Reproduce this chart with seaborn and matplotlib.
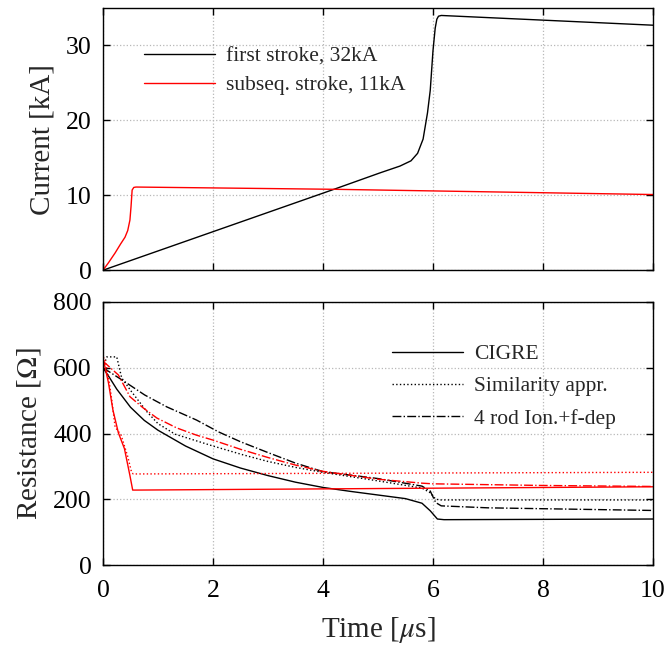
import numpy as np
import pandas as pd
import matplotlib
matplotlib.use("Agg")
import matplotlib.pyplot as plt
import seaborn as sns

sns.set_theme(style="ticks")
plt.rcParams['font.family'] = ['Liberation Serif', 'DejaVu Serif']
plt.rcParams['mathtext.fontset'] = 'stix'

# ---- Current (top panel) ----
t_first = [0, 4.2, 5.04, 5.4, 5.6, 5.72, 5.82, 5.9, 5.95, 6.0, 6.04, 6.07, 6.1, 6.15, 10]
i_first = [0, 10.8, 13.0, 13.9, 14.6, 15.6, 17.5, 21.0, 24.0, 29.3, 32.3, 33.5, 33.9, 34.0, 32.7]
t_sub = [0, 0.1, 0.22, 0.32, 0.4, 0.45, 0.49, 0.51, 0.53, 0.56, 0.6, 4.2, 10]
i_sub = [0, 1.0, 2.3, 3.5, 4.4, 5.3, 6.7, 8.5, 10.7, 11.05, 11.1, 10.8, 10.1]

# ---- Resistance (bottom panel) ----
t_cigre_1 = [0, 0.1, 0.25, 0.5, 0.75, 1.0, 1.5, 2, 2.5, 3, 3.5, 4, 4.5, 5, 5.5, 5.8, 5.95, 6.08, 6.2, 10]
r_cigre_1 = [600, 575, 535, 480, 440, 410, 362, 323, 295, 272, 252, 236, 224, 213, 202, 188, 165, 140, 138, 140]
t_sim_1 = [0, 0.07, 0.25, 0.34, 0.52, 0.8, 1.0, 1.31, 2, 2.55, 3, 3.5, 4, 5, 5.8, 5.95, 6.05, 6.15, 10]
r_sim_1 = [600, 633, 633, 569, 527, 466, 430, 398, 362, 335, 315, 297, 282, 256, 234, 220, 200, 198, 198]
t_rod_1 = [0, 0.4, 0.76, 1.16, 1.7, 2.1, 2.5, 3, 3.5, 4, 5, 5.8, 5.95, 6.05, 6.15, 7, 10]
r_rod_1 = [600, 557, 517, 481, 441, 405, 375, 342, 310, 284, 263, 240, 225, 190, 180, 174, 166]

t_cigre_2 = [0, 0.1, 0.18, 0.28, 0.39, 0.49, 0.54, 0.6, 10]
r_cigre_2 = [630, 554, 472, 402, 354, 272, 228, 228, 238]
t_sim_2 = [0, 0.03, 0.1, 0.16, 0.22, 0.33, 0.45, 0.52, 0.55, 10]
r_sim_2 = [630, 630, 572, 502, 420, 395, 330, 282, 277, 282]
t_rod_2 = [0, 0.28, 0.49, 0.73, 0.98, 1.34, 1.7, 2, 2.5, 3, 3.5, 4, 5, 5.8, 6, 8, 10]
r_rod_2 = [620, 578, 512, 478, 447, 417, 395, 380, 352, 327, 304, 285, 261, 249, 247, 242, 239]

fig = plt.figure(figsize=(6.67, 6.48), dpi=100)
ax1 = fig.add_axes([0.1544, 0.583, 0.8246, 0.4047])
ax2 = fig.add_axes([0.1544, 0.128, 0.8246, 0.406])

lw = 1.0
sns.lineplot(x=t_first, y=i_first, ax=ax1, color='black', lw=lw, label='first stroke, 32kA')
sns.lineplot(x=t_sub, y=i_sub, ax=ax1, color='red', lw=lw, label='subseq. stroke, 11kA')

sns.lineplot(x=t_cigre_1, y=r_cigre_1, ax=ax2, color='black', lw=lw, linestyle='-', label='CIGRE')
sns.lineplot(x=t_sim_1, y=r_sim_1, ax=ax2, color='black', lw=lw, linestyle=':', label='Similarity appr.')
sns.lineplot(x=t_rod_1, y=r_rod_1, ax=ax2, color='black', lw=lw, linestyle='-.', label='4 rod Ion.+f-dep')
sns.lineplot(x=t_cigre_2, y=r_cigre_2, ax=ax2, color='red', lw=lw, linestyle='-')
sns.lineplot(x=t_sim_2, y=r_sim_2, ax=ax2, color='red', lw=lw, linestyle=':')
sns.lineplot(x=t_rod_2, y=r_rod_2, ax=ax2, color='red', lw=lw, linestyle='-.')

for ax in (ax1, ax2):
    ax.set_xlim(0, 10)
    ax.set_xticks([0, 2, 4, 6, 8, 10])
    ax.grid(True, linestyle=':', color='#b8b8b8', linewidth=0.9)
    ax.tick_params(direction='in', top=True, right=True, labelsize=18.5, length=5, width=1, colors='black')
    ax.tick_params(axis='y', pad=8)
    ax.tick_params(axis='x', pad=11)
    for s in ax.spines.values():
        s.set_color('black')
        s.set_linewidth(1.0)

ax1.set_ylim(0, 35)
ax1.set_yticks([0, 10, 20, 30])
ax1.tick_params(labelbottom=False)
ax1.set_ylabel('Current [kA]', fontsize=21)
ax1.set_xlabel('')

ax2.set_ylim(0, 800)
ax2.set_yticks([0, 200, 400, 600, 800])
ax2.set_ylabel(r'Resistance [$\Omega$]', fontsize=21)
ax2.set_xlabel(r'Time [$\mu$s]', fontsize=21, labelpad=9)

ax1.yaxis.set_label_coords(-0.087, 0.5)
ax2.yaxis.set_label_coords(-0.109, 0.5)

ax1.legend(loc='upper left', bbox_to_anchor=(0.04, 0.927), frameon=False, fontsize=15.5,
           handlelength=3.3, handletextpad=0.5, labelspacing=0.4)
ax2.legend(loc='upper left', bbox_to_anchor=(0.49, 0.913), frameon=False, fontsize=15.5,
           handlelength=3.3, handletextpad=0.5, labelspacing=0.56)

fig.savefig('out.png', dpi=100, facecolor='white')
